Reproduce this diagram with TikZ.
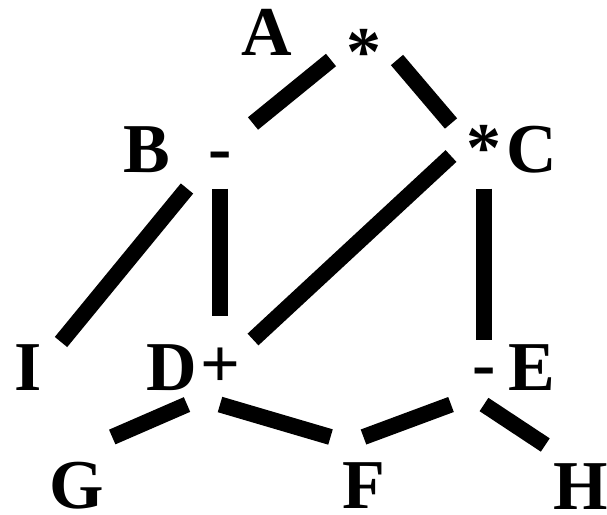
\documentclass[tikz,border=0pt]{standalone}
\usepackage{fontspec}
\setmainfont{Liberation Serif}
\newcommand{\dagfont}{\fontsize{70}{84}\selectfont\bfseries}

\begin{document}
\begin{tikzpicture}[x=1pt, y=-1pt, line width=16pt,
    op/.style={font=\dagfont, inner sep=0pt, minimum width=50pt,
        text height=40pt, text depth=9pt, anchor=base},
    lowleaf/.style={op, text height=63pt, text depth=0pt},
    lbl/.style={font=\dagfont, inner sep=0pt, anchor=base}]

    \useasboundingbox (0,0) rectangle (607,514);

    % operators
    \node[op] (A) at (364,75.5) {*};
    \node[op] (B) at (220,171.5) {-};
    \node[op] (C) at (484,171.5) {*};
    \node[op] (D) at (220,387.5) {+};
    \node[op] (E) at (484,387.5) {-};

    % leaves
    \node[op] (I) at (28,390) {I};
    \node[lowleaf] (G) at (77,508) {G};
    \node[lowleaf] (F) at (363.5,508) {F};
    \node[lowleaf] (H) at (580.5,509) {H};

    % names of the operator vertices
    \node[lbl] (nameA) at (267,55) {A};
    \node[lbl] (nameB) at (146.5,172) {B};
    \node[lbl] (nameC) at (532,172) {C};
    \node[lbl] (nameD) at (171.5,390) {D};
    \node[lbl] (nameE) at (531.5,390) {E};

    \draw (A.west) -- (B.north east);
    \draw (A.east) -- (C.north west);
    \draw (B.south west) -- (I.north east);
    \draw (B.south) -- ([yshift=24pt]D.north);
    \draw (C.west) -- (D.north east);
    \draw (C.south) -- (E.north);
    \draw (D.south west) -- (G.north east);
    \draw (D.south) -- (F.north west);
    \draw (E.south west) -- (F.north);
    \draw (E.south) -- ([yshift=-7pt]H.north west);

\end{tikzpicture}
\end{document}
